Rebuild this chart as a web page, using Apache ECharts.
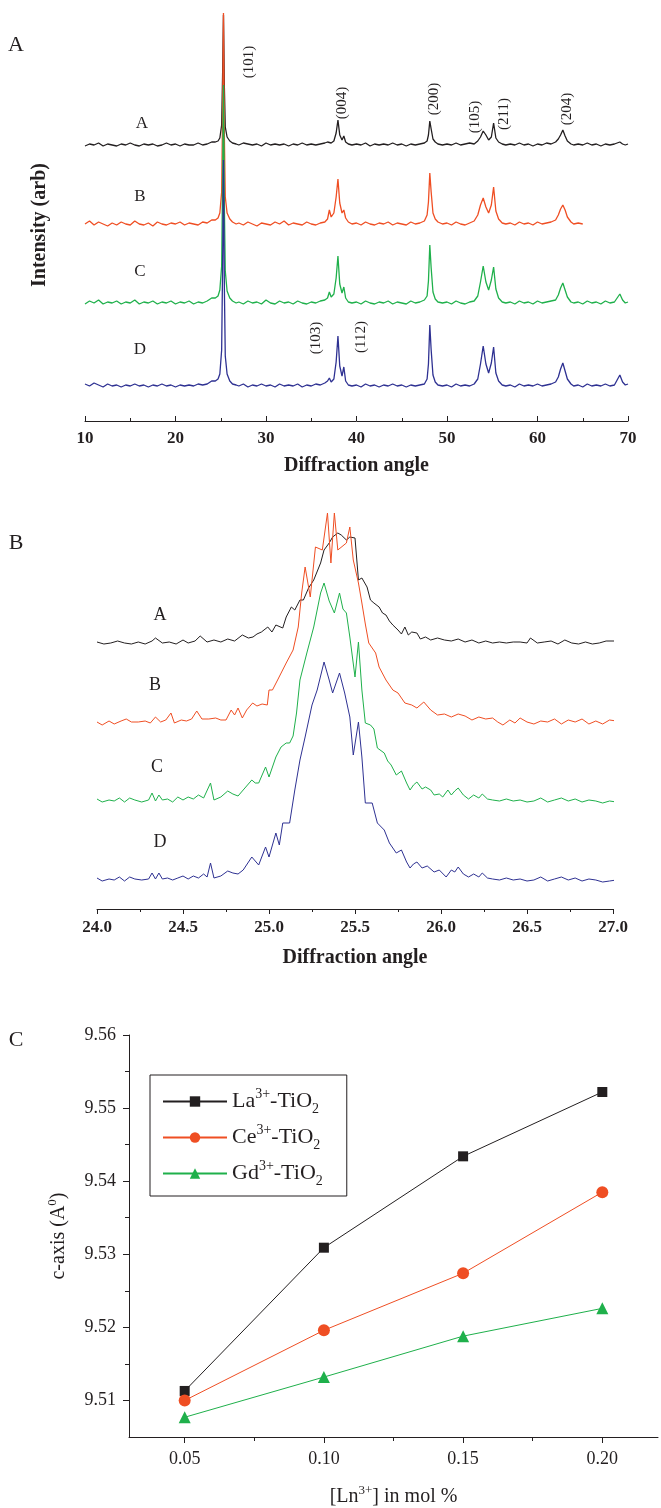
<!DOCTYPE html>
<html><head><meta charset="utf-8">
<script src="https://cdn.jsdelivr.net/npm/echarts@6/dist/echarts.min.js"></script>
<style>html,body{margin:0;padding:0;background:#fff}#c{width:661px;height:1508px}</style>
</head><body><div id="c"></div>
<script>
// ---------- Panel A: full XRD patterns (intensity above each trace's own baseline) ----------
const anglesA = [10,10.5,11,11.5,12,12.5,13,13.5,14,14.5,15,15.5,16,16.5,17,17.5,18,18.5,19,19.5,20,20.5,21,21.5,22,22.5,23,23.5,24,
24.4,24.7,24.9,25.1,25.2,25.3,25.4,25.5,25.7,26.0,26.3,26.7,
27,27.5,28,28.5,29,29.5,30,30.5,31,31.5,32,32.5,33,33.5,34,34.5,35,35.5,36,36.5,
36.8,37.0,37.2,37.5,37.75,37.95,38.15,38.4,38.6,38.8,39.1,39.5,
40,40.5,41,41.5,42,42.5,43,43.5,44,44.5,45,45.5,46,46.5,47,47.5,
47.8,47.95,48.1,48.25,48.45,48.7,49.0,49.5,
50,50.5,51,51.5,52,52.5,53,
53.4,53.7,54.0,54.3,54.6,54.9,55.15,55.4,55.7,56.1,56.5,
57,57.5,58,58.5,59,59.5,60,60.5,61,61.5,62,
62.3,62.55,62.8,63.05,63.3,63.7,64,
64.5,65,65.5,66,66.5,67,67.5,68,68.5,
68.8,69.1,69.4,69.7,70];
const xrdA = [1,3,2,4,1,3,2,1,3,2,4,2,1,3,2,3,1,2,4,2,3,1,3,2,2,4,2,3,5,
5,6,9,22,70,132,60,20,10,6,4,3,
2,4,3,2,3,1,4,2,3,2,3,1,3,2,4,2,3,2,3,4,
5,7,4,6,14,27,12,7,11,5,3,2,
3,2,4,1,3,2,3,2,4,2,3,1,3,2,3,4,
6,12,26,18,8,5,3,2,
3,2,4,2,3,4,3,
6,10,16,12,7,10,24,9,5,3,2,
3,2,4,2,3,1,3,2,4,3,5,
8,12,17,11,6,3,2,
3,2,4,2,3,1,3,2,3,
4,5,3,2,3];
const xrdB = [3,6,2,5,3,1,4,2,5,3,2,6,3,2,4,1,5,3,2,4,3,5,2,4,3,2,5,4,7,
7,9,14,35,110,214,90,30,14,8,5,3,
4,2,5,3,1,4,3,2,5,3,6,2,4,3,2,5,3,2,4,5,
8,17,10,14,30,48,24,14,17,9,5,3,
4,2,5,3,2,4,3,5,2,4,3,2,5,3,4,6,
12,25,54,35,14,8,5,3,
4,2,5,3,2,4,6,
12,22,29,20,14,22,40,16,8,4,3,
4,2,5,3,4,2,5,3,4,5,7,
12,18,22,17,10,5,3,
4,3];
const xrdC = [2,5,3,6,2,4,3,5,2,4,3,6,2,4,3,5,2,4,3,5,2,4,3,5,2,4,3,5,8,
8,10,16,40,120,221,100,35,15,8,5,3,
4,2,5,3,4,2,6,3,2,5,3,4,2,5,3,2,4,3,5,6,
8,14,9,12,28,50,22,13,19,8,4,3,
4,2,5,3,2,4,3,5,2,4,3,2,5,3,4,6,
10,25,61,38,14,7,4,3,
4,2,5,3,2,4,5,
10,24,40,24,16,26,39,17,8,4,3,
4,2,5,3,4,2,5,3,4,5,6,
11,18,23,16,9,4,3,
4,2,5,3,4,2,5,3,4,
8,12,6,3,4];
const xrdD = [4,2,5,3,1,4,2,3,1,3,2,4,2,3,1,3,2,4,2,3,1,3,2,3,2,4,3,4,7,
7,9,14,38,118,228,100,32,14,7,4,3,
2,4,1,3,2,4,2,3,1,4,2,3,2,4,1,3,2,4,3,5,
7,10,6,9,26,52,22,12,21,7,3,2,
3,1,4,2,3,1,3,2,4,2,3,1,3,2,3,4,
9,24,63,38,13,6,3,2,
3,1,4,2,3,2,4,
9,24,42,24,15,25,41,15,7,3,2,
3,1,4,2,3,2,4,2,3,4,6,
11,19,25,17,9,4,2,
3,1,4,2,3,2,4,2,3,
8,13,6,3,4];
const offsetsA = [274, 194, 115, 33];
const sampleNames = ['A', 'B', 'C', 'D'];
const planeLabels = ['(101)', '(004)', '(200)', '(105)', '(211)', '(204)', '(103)', '(112)'];

// ---------- Panel B: zoom on the (101) reflection, [angle, intensity above baseline] ----------
const zoomA = [[24.00,1],[24.04,-1],[24.08,0],[24.12,2],[24.16,0],[24.20,-1],[24.24,1],[24.28,-1],[24.32,2],[24.34,5],[24.38,0],[24.42,1],[24.46,-1],[24.50,3],[24.53,0],[24.57,2],[24.60,7],[24.64,1],[24.68,3],[24.72,1],[24.76,4],[24.80,2],[24.845,8],[24.88,5],[24.907,6],[24.93,9],[24.956,11],[24.993,16],[25.017,11],[25.04,18],[25.08,15],[25.10,26],[25.13,36],[25.15,33],[25.18,43],[25.20,43],[25.23,55],[25.26,63],[25.30,80],[25.32,93],[25.35,100],[25.37,106],[25.40,110],[25.42,108],[25.45,103],[25.47,106],[25.50,105],[25.52,63],[25.54,65],[25.57,56],[25.59,43],[25.61,40],[25.64,36],[25.66,30],[25.68,28],[25.70,22],[25.72,18],[25.75,13],[25.77,9],[25.79,16],[25.81,8],[25.83,11],[25.86,10],[25.88,4],[25.91,6],[25.94,3],[25.98,5],[26.02,3],[26.06,2],[26.10,4],[26.14,1],[26.18,3],[26.22,0],[26.26,2],[26.30,0],[26.34,1],[26.38,0],[26.42,1],[26.46,1],[26.50,0],[26.52,5],[26.56,0],[26.60,1],[26.64,2],[26.68,-1],[26.72,3],[26.76,0],[26.80,-1],[26.84,1],[26.88,-1],[26.92,0],[26.96,2],[27.02,2]];
const zoomB = [[24.00,0],[24.03,-3],[24.07,1],[24.10,-2],[24.14,1],[24.17,3],[24.20,0],[24.24,0],[24.28,1],[24.31,-1],[24.34,5],[24.37,0],[24.40,2],[24.43,9],[24.45,-1],[24.49,2],[24.52,1],[24.55,3],[24.58,11],[24.61,3],[24.65,3],[24.69,4],[24.72,2],[24.75,2],[24.78,12],[24.80,7],[24.82,14],[24.845,4],[24.87,12],[24.905,19],[24.93,16],[24.96,18],[24.99,17],[25.00,32],[25.02,32],[25.05,42],[25.10,59],[25.14,72],[25.17,95],[25.19,129],[25.21,155],[25.24,125],[25.27,175],[25.31,172],[25.34,209],[25.36,159],[25.38,209],[25.40,172],[25.45,179],[25.47,195],[25.49,162],[25.52,139],[25.54,119],[25.56,98],[25.58,79],[25.62,69],[25.64,55],[25.68,42],[25.72,32],[25.75,29],[25.79,19],[25.83,17],[25.86,14],[25.90,20],[25.94,12],[25.98,7],[26.02,8],[26.06,5],[26.10,8],[26.14,6],[26.18,2],[26.22,5],[26.26,3],[26.30,4],[26.33,0],[26.36,-3],[26.40,2],[26.43,-1],[26.46,4],[26.50,0],[26.54,-2],[26.58,1],[26.62,0],[26.66,3],[26.70,-2],[26.74,2],[26.78,0],[26.82,3],[26.86,-2],[26.90,1],[26.94,-2],[26.98,2],[27.02,1]];
const zoomC = [[24.00,2],[24.03,-1],[24.07,1],[24.10,0],[24.13,3],[24.16,-1],[24.19,3],[24.22,1],[24.26,-1],[24.30,1],[24.32,8],[24.34,0],[24.36,6],[24.38,1],[24.41,2],[24.44,-1],[24.47,4],[24.50,1],[24.53,4],[24.56,2],[24.59,6],[24.62,3],[24.66,18],[24.68,1],[24.72,4],[24.76,10],[24.79,7],[24.82,5],[24.85,11],[24.90,21],[24.92,18],[24.94,18],[24.98,34],[25.00,24],[25.04,44],[25.07,54],[25.10,58],[25.12,58],[25.14,65],[25.16,88],[25.18,121],[25.22,148],[25.26,174],[25.30,208],[25.32,218],[25.35,200],[25.38,188],[25.41,208],[25.43,192],[25.45,188],[25.47,164],[25.50,124],[25.52,159],[25.54,111],[25.56,78],[25.59,76],[25.61,72],[25.63,53],[25.67,48],[25.69,40],[25.71,36],[25.74,26],[25.77,30],[25.80,18],[25.82,11],[25.84,16],[25.86,19],[25.89,12],[25.91,14],[25.94,11],[25.96,6],[25.99,7],[26.01,4],[26.04,11],[26.06,6],[26.08,10],[26.10,13],[26.13,6],[26.16,2],[26.19,6],[26.22,3],[26.24,7],[26.27,2],[26.30,1],[26.34,0],[26.38,2],[26.42,0],[26.46,1],[26.50,-1],[26.54,0],[26.58,3],[26.62,-1],[26.66,1],[26.70,3],[26.74,0],[26.78,2],[26.82,-1],[26.86,1],[26.90,0],[26.94,-2],[26.98,0],[27.02,-1]];
const zoomD = [[24.00,2],[24.03,-1],[24.07,1],[24.10,0],[24.13,3],[24.16,-1],[24.19,3],[24.22,1],[24.26,0],[24.30,1],[24.32,7],[24.34,1],[24.36,7],[24.38,1],[24.41,2],[24.44,0],[24.47,2],[24.50,4],[24.53,1],[24.56,4],[24.59,2],[24.62,6],[24.64,3],[24.66,17],[24.68,2],[24.72,4],[24.76,9],[24.79,7],[24.82,6],[24.85,10],[24.90,23],[24.92,19],[24.94,15],[24.98,33],[25.00,23],[25.04,47],[25.06,35],[25.08,57],[25.12,57],[25.15,90],[25.18,120],[25.21,143],[25.25,175],[25.28,190],[25.32,218],[25.35,200],[25.37,187],[25.41,207],[25.44,187],[25.47,163],[25.49,125],[25.52,158],[25.54,123],[25.56,77],[25.60,77],[25.63,57],[25.67,50],[25.70,37],[25.74,27],[25.77,30],[25.80,18],[25.82,12],[25.84,16],[25.86,18],[25.89,12],[25.92,14],[25.96,8],[25.99,10],[26.03,3],[26.06,10],[26.08,8],[26.10,13],[26.13,6],[26.16,3],[26.19,6],[26.22,3],[26.24,7],[26.27,2],[26.30,1],[26.34,0],[26.38,2],[26.42,0],[26.46,1],[26.50,-1],[26.54,0],[26.58,3],[26.62,-1],[26.66,1],[26.70,3],[26.74,0],[26.78,2],[26.82,-1],[26.86,1],[26.90,0],[26.94,-2],[26.98,-1],[27.02,0]];
const offsetsB = [266, 187, 108, 29];

// ---------- Panel C: c-axis lattice parameter ----------
const lnConc = [0.05, 0.10, 0.15, 0.20];
const cLa = [9.5113, 9.5309, 9.5434, 9.5522];
const cCe = [9.5100, 9.5196, 9.5274, 9.5385];
const cGd = [9.5077, 9.5132, 9.5188, 9.5226];
const cSeriesNames = ['La', 'Ce', 'Gd'];
const xTicksC = [0.05, 0.10, 0.15, 0.20];
const xMinorC = [0.075, 0.125, 0.175];
const yTicksC = [9.51, 9.52, 9.53, 9.54, 9.55, 9.56];
const yMinorC = [9.515, 9.525, 9.535, 9.545, 9.555];

const FONT = '"Liberation Serif","Times New Roman",serif';
const INK = '#231f20';
const COLORS = ['#231f20', '#ef4e23', '#1fb04b', '#2e3192'];

const chart = echarts.init(document.getElementById('c'), null, {renderer: 'canvas'});

const seriesA = [xrdA, xrdB, xrdC, xrdD].map((vals, k) => ({
  type: 'line', xAxisIndex: 0, yAxisIndex: 0, showSymbol: false, symbol: 'none',
  lineStyle: {color: COLORS[k], width: 1.3}, silent: true,
  data: vals.map((v, i) => [anglesA[i], v + offsetsA[k]])
}));
const seriesB = [zoomA, zoomB, zoomC, zoomD].map((pts, k) => ({
  type: 'line', xAxisIndex: 1, yAxisIndex: 1, showSymbol: false, symbol: 'none',
  lineStyle: {color: COLORS[k], width: 1}, silent: true,
  data: pts.map(p => [p[0], p[1] + offsetsB[k]])
}));
const cSym = ['rect', 'circle', 'triangle'];
const cSize = [10, 12, 12];
const seriesC = [cLa, cCe, cGd].map((vals, k) => ({
  type: 'line', name: cSeriesNames[k], xAxisIndex: 2, yAxisIndex: 2,
  symbol: cSym[k], symbolSize: cSize[k], showSymbol: true,
  itemStyle: {color: COLORS[k]}, lineStyle: {color: COLORS[k], width: 1},
  data: vals.map((v, i) => [lnConc[i], v])
}));

function richSet(big, small, lh) {
  return {
    n: {fontFamily: FONT, fontSize: big, color: INK, lineHeight: lh, verticalAlign: 'middle'},
    sup: {fontFamily: FONT, fontSize: small, color: INK, verticalAlign: 'top', lineHeight: lh},
    sub: {fontFamily: FONT, fontSize: small, color: INK, verticalAlign: 'bottom', lineHeight: lh}
  };
}

function txt(text, x, y, size, opts) {
  opts = opts || {};
  return {
    type: 'text', x: x, y: y, rotation: opts.rot || 0, silent: true,
    style: {text: text, font: (opts.bold ? 'bold ' : '') + size + 'px ' + FONT,
      fill: INK, textAlign: 'center', textVerticalAlign: 'middle'}
  };
}
const R = Math.PI / 2;
const graphics = [
  txt('A', 16, 45, 22), txt('B', 16, 543, 22), txt('C', 16, 1040, 22),
  txt('Intensity (arb)', 40, 225, 20, {bold: true, rot: R}),
  txt(sampleNames[0], 142, 124, 17), txt(sampleNames[1], 140, 197, 17),
  txt(sampleNames[2], 140, 272, 17), txt(sampleNames[3], 140, 350, 17),
  txt(planeLabels[0], 249, 62, 15, {rot: R}), txt(planeLabels[1], 342, 103, 15, {rot: R}),
  txt(planeLabels[2], 434, 99, 15, {rot: R}), txt(planeLabels[3], 475, 117, 15, {rot: R}),
  txt(planeLabels[4], 504, 114, 15, {rot: R}), txt(planeLabels[5], 567, 109, 15, {rot: R}),
  txt(planeLabels[6], 316, 338, 15, {rot: R}), txt(planeLabels[7], 361, 337, 15, {rot: R}),
  txt(sampleNames[0], 160, 615, 18), txt(sampleNames[1], 155, 685, 18),
  txt(sampleNames[2], 157, 767, 18), txt(sampleNames[3], 160, 842, 18)
];

const boldLabel = {fontFamily: FONT, fontWeight: 'bold', color: INK};
const titleStyle = {fontFamily: FONT, fontWeight: 'bold', fontSize: 20, color: INK};

const option = {
  animation: false,
  backgroundColor: '#fff',
  grid: [
    {left: 85, right: 33, top: 10, bottom: 1087},
    {left: 97, right: 48, top: 500, bottom: 599},
    {left: 129, right: 3, top: 1035, bottom: 71}
  ],
  xAxis: [
    {gridIndex: 0, type: 'value', min: 10, max: 70, interval: 10,
      axisLine: {lineStyle: {color: INK, width: 1}},
      axisTick: {inside: true, length: 5, lineStyle: {color: INK}},
      minorTick: {show: true, splitNumber: 2, length: 3, lineStyle: {color: INK}},
      splitLine: {show: false},
      axisLabel: Object.assign({margin: 9, fontSize: 17}, boldLabel),
      name: 'Diffraction angle', nameLocation: 'middle', nameGap: 35,
      nameTextStyle: titleStyle},
    {gridIndex: 1, type: 'value', min: 24, max: 27, interval: 0.5,
      axisLine: {lineStyle: {color: INK, width: 1}},
      axisTick: {inside: false, length: 5, lineStyle: {color: INK}},
      minorTick: {show: true, splitNumber: 2, length: 3, lineStyle: {color: INK}},
      splitLine: {show: false},
      axisLabel: Object.assign({margin: 10, fontSize: 17, formatter: v => v.toFixed(1)}, boldLabel),
      name: 'Diffraction angle', nameLocation: 'middle', nameGap: 39,
      nameTextStyle: titleStyle},
    {gridIndex: 2, type: 'value', min: 0.03, max: 0.22,
      axisLine: {onZero: false, lineStyle: {color: INK, width: 1}},
      axisTick: {length: 6, customValues: xTicksC, lineStyle: {color: INK}},
      splitLine: {show: false},
      axisLabel: {customValues: xTicksC, margin: 13, fontFamily: FONT, fontSize: 18, color: INK,
        formatter: v => v.toFixed(2)},
      name: '{n|[Ln}{sup|3+}{n|] in mol %}', nameLocation: 'middle', nameGap: 47,
      nameTextStyle: {rich: richSet(20, 13, 26)}},
    {gridIndex: 2, type: 'value', min: 0.03, max: 0.22, position: 'bottom',
      axisLine: {show: false, onZero: false}, axisLabel: {show: false}, splitLine: {show: false},
      axisTick: {length: 4, customValues: xMinorC, lineStyle: {color: INK}}}
  ],
  yAxis: [
    {gridIndex: 0, type: 'value', min: 0, max: 411, show: false},
    {gridIndex: 1, type: 'value', min: 0, max: 409, show: false},
    {gridIndex: 2, type: 'value', min: 9.505, max: 9.56,
      axisLine: {show: true, onZero: false, lineStyle: {color: INK, width: 1}},
      axisTick: {show: true, length: 6, customValues: yTicksC, lineStyle: {color: INK}},
      splitLine: {show: false},
      axisLabel: {customValues: yTicksC, margin: 13, fontFamily: FONT, fontSize: 18, color: INK,
        formatter: v => v.toFixed(2)},
      name: '{n|c-axis (A}{sup|0}{n|)}', nameLocation: 'middle', nameGap: 57, nameRotate: 90,
      nameTextStyle: {rich: richSet(20, 13, 26)}},
    {gridIndex: 2, type: 'value', min: 9.505, max: 9.56, position: 'left',
      axisLine: {show: false, onZero: false}, axisLabel: {show: false}, splitLine: {show: false},
      axisTick: {show: true, length: 4, customValues: yMinorC, lineStyle: {color: INK}}}
  ],
  legend: {
    show: true, orient: 'vertical', left: 150, top: 1075,
    padding: [12, 24, 8, 12], itemGap: 7,
    itemWidth: 64, itemHeight: 13,
    borderColor: INK, borderWidth: 1, backgroundColor: '#fff',
    selectedMode: false,
    data: cSeriesNames,
    formatter: function (name) {
      return '{n|' + name + '}{sup|3+}{n|-TiO}{sub|2}';
    },
    textStyle: {rich: richSet(22, 14, 29)}
  },
  series: seriesA.concat(seriesB, seriesC),
  graphic: {elements: graphics}
};
chart.setOption(option);
</script>
</body></html>
